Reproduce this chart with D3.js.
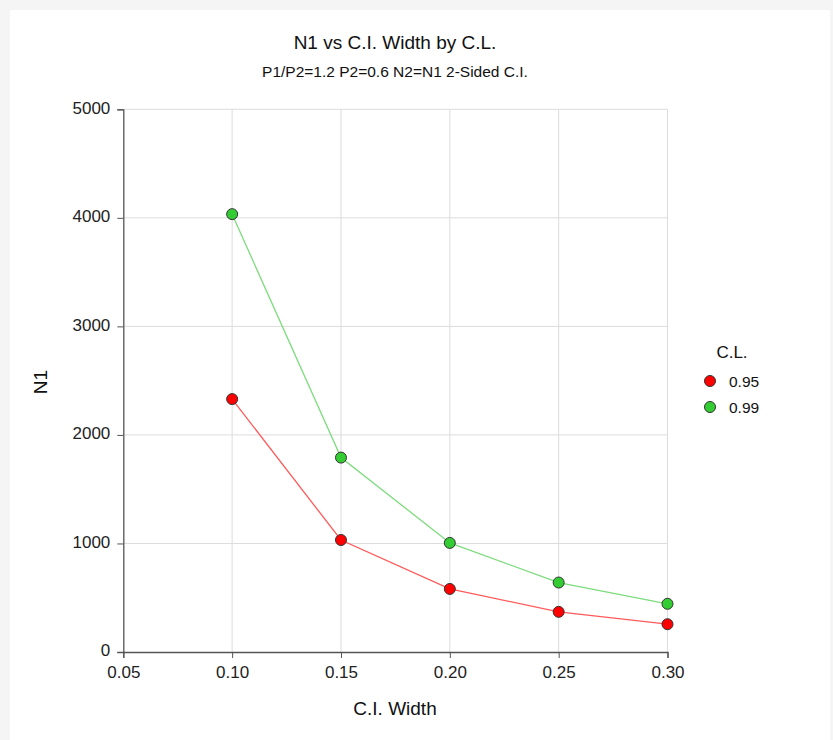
<!DOCTYPE html>
<html><head><meta charset="utf-8">
<script src="https://cdn.jsdelivr.net/npm/d3@7"></script>
<style>body{margin:0;background:#f5f5f5;font-family:Arial,"Liberation Sans",sans-serif;}</style>
</head><body>
<svg id="c" width="833" height="740"></svg>
<script>
const widths = [0.10, 0.15, 0.20, 0.25, 0.30];
const seriesNames = ["0.95", "0.99"];
const n95 = [2330, 1032, 581, 370, 256];
const n99 = [4034, 1791, 1005, 640, 444];
const seriesColors = ["#ff0000", "#33cc33"];
const lineColors = ["#ff5a5a", "#7ddc7d"];
const xTicks = [0.05, 0.10, 0.15, 0.20, 0.25, 0.30];
const yTicks = [0, 1000, 2000, 3000, 4000, 5000];
const FF = "Arial, 'Liberation Sans', sans-serif";

const svg = d3.select("#c").attr("font-family", FF);
svg.append("rect").attr("x",10).attr("y",10).attr("width",820).attr("height",730).attr("fill","#fff");

const x = d3.scaleLinear().domain([0.05,0.30]).range([123.3,667.5]);
const y = d3.scaleLinear().domain([0,5000]).range([652,109.3]);

// grid
svg.append("g").selectAll("line").data(xTicks.slice(1)).join("line")
  .attr("x1",d=>x(d)).attr("x2",d=>x(d)).attr("y1",y(0)).attr("y2",y(5000))
  .attr("stroke","#dcdcdc").attr("stroke-width",1);
svg.append("g").selectAll("line").data(yTicks.slice(1)).join("line")
  .attr("x1",x(0.05)).attr("x2",x(0.30)).attr("y1",d=>y(d)).attr("y2",d=>y(d))
  .attr("stroke","#dcdcdc").attr("stroke-width",1);

// axes
const xa = svg.append("g").attr("transform",`translate(0,${y(0)})`)
  .call(d3.axisBottom(x).tickValues(xTicks).tickFormat(d3.format(".2f")).tickSizeOuter(0).tickSize(6).tickPadding(8));
const ya = svg.append("g").attr("transform",`translate(${x(0.05)},0)`)
  .call(d3.axisLeft(y).tickValues(yTicks).tickFormat(d3.format("d")).tickSizeOuter(0).tickSize(6).tickPadding(7));
[xa,ya].forEach(a=>{
  a.attr("font-family", FF);
  a.select(".domain").attr("stroke","#555").attr("stroke-width",1.3);
  a.selectAll(".tick line").attr("stroke","#555");
  a.selectAll(".tick text").attr("font-size",17).attr("fill","#222");
});
ya.selectAll(".tick text").attr("dy","0.22em");

// series
const data = [n95, n99];
const line = d3.line().x((d,i)=>x(widths[i])).y(d=>y(d));
data.forEach((s,k)=>{
  svg.append("path").datum(s).attr("d",line).attr("fill","none").attr("stroke",lineColors[k]).attr("stroke-width",1.3);
});
data.forEach((s,k)=>{
  svg.append("g").selectAll("circle").data(s).join("circle")
    .attr("cx",(d,i)=>x(widths[i])).attr("cy",d=>y(d)).attr("r",5.5)
    .attr("fill",seriesColors[k]).attr("stroke","#333").attr("stroke-width",1);
});

// titles
svg.append("text").attr("x",395).attr("y",49).attr("text-anchor","middle").attr("font-size",19).attr("fill","#111").text("N1 vs C.I. Width by C.L.");
svg.append("text").attr("x",395).attr("y",77).attr("text-anchor","middle").attr("font-size",15.5).attr("fill","#111").text("P1/P2=1.2 P2=0.6 N2=N1 2-Sided C.I.");
svg.append("text").attr("x",395).attr("y",715).attr("text-anchor","middle").attr("font-size",19).attr("fill","#111").text("C.I. Width");
svg.append("text").attr("transform","translate(47,382) rotate(-90)").attr("text-anchor","middle").attr("font-size",19).attr("fill","#111").text("N1");

// legend
svg.append("text").attr("x",732).attr("y",358).attr("text-anchor","middle").attr("font-size",17).attr("fill","#111").text("C.L.");
const lg = svg.append("g").selectAll("g").data(seriesNames).join("g")
  .attr("transform",(d,i)=>`translate(710,${381+i*26})`);
lg.append("circle").attr("r",5.5).attr("fill",(d,i)=>seriesColors[i]).attr("stroke","#333").attr("stroke-width",1);
lg.append("text").attr("x",19).attr("y",5.5).attr("font-size",15.5).attr("fill","#111").text(d=>d);
</script>
</body></html>
